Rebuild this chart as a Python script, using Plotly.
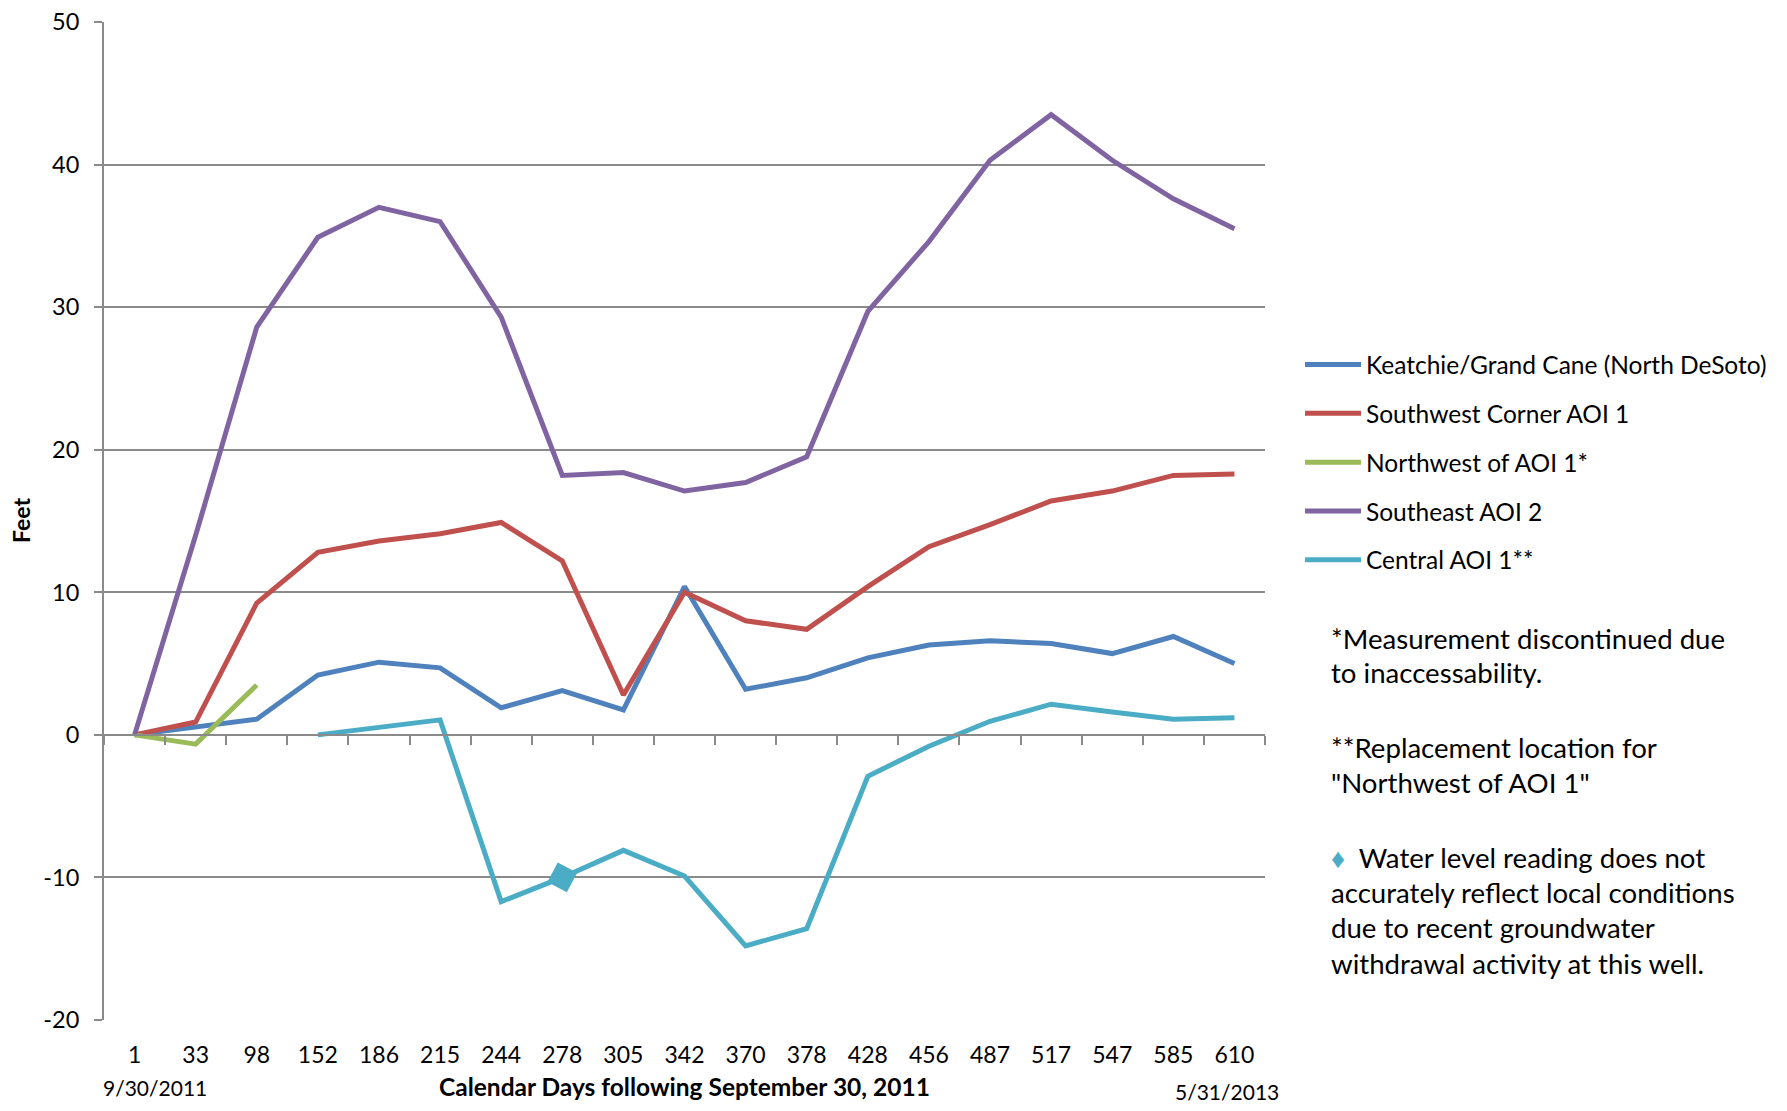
import plotly.graph_objects as go

categories = ["1", "33", "98", "152", "186", "215", "244", "278", "305", "342",
              "370", "378", "428", "456", "487", "517", "547", "585", "610"]

keatchie = [0, 0.55, 1.1, 4.2, 5.1, 4.7, 1.9, 3.1, 1.75, 10.4,
            3.2, 4.0, 5.4, 6.3, 6.6, 6.4, 5.7, 6.9, 5.0]
southwest = [0, 0.9, 9.25, 12.8, 13.6, 14.1, 14.9, 12.2, 2.8, 10.0,
             8.0, 7.4, 10.4, 13.2, 14.75, 16.4, 17.1, 18.2, 18.3]
northwest = [0, -0.65, 3.5, None, None, None, None, None, None, None,
             None, None, None, None, None, None, None, None, None]
southeast = [0, 14.0, 28.6, 34.9, 37.0, 36.0, 29.3, 18.2, 18.4, 17.1,
             17.7, 19.5, 29.7, 34.6, 40.3, 43.5, 40.3, 37.6, 35.5]
central = [None, None, None, 0, 0.55, 1.05, -11.7, -10.0, -8.1, -9.9,
           -14.8, -13.6, -2.9, -0.8, 0.95, 2.15, 1.6, 1.1, 1.2]
flagged_index = 7  # day 278, Central AOI 1 reading flagged with diamond

series_names = ["Keatchie/Grand Cane (North DeSoto)", "Southwest Corner AOI 1",
                "Northwest of AOI 1*", "Southeast AOI 2", "Central AOI 1**"]
series_values = [keatchie, southwest, northwest, southeast, central]
series_colors = ["#4F81BD", "#C0504D", "#9BBB59", "#8064A2", "#4BACC6"]

y_ticks = [-20, -10, 0, 10, 20, 30, 40, 50]
y_ticktext = ["-20", "-10", "0", "10", "20", "30", "40", "50"]

FONT = "Lato, 'Open Sans', sans-serif"
GRID = "#8a8a8a"

# page body has an 8px margin; size the figure so the page fits the window
OFF = 8
W, H = 1787 - 2 * OFF, 1111 - 2 * OFF
L, R, T, B = 96, 514, 14, 83
PW = W - L - R
PH = H - T - B


def px2paper_x(sx):
    return (sx - OFF - L) / PW


def px2paper_y(sy):
    return (H - B - (sy - OFF)) / PH


x_idx = list(range(len(categories)))
n = len(categories)

fig = go.Figure()
for name, vals, col in zip(series_names, series_values, series_colors):
    fig.add_trace(go.Scatter(
        x=x_idx, y=vals, mode="lines", name=name, legendgroup=name,
        line=dict(color=col, width=5), connectgaps=False,
    ))

fig.add_trace(go.Scatter(
    x=[x_idx[flagged_index]], y=[central[flagged_index]], mode="markers",
    marker=dict(symbol="diamond", size=24, color=series_colors[4], angle=-17),
    showlegend=False,
))

# helper trace for the zero-line axis
fig.add_trace(go.Scatter(x=[-0.5, n - 0.5], y=[0, 0], xaxis="x2",
                         mode="lines", line=dict(width=0), showlegend=False,
                         hoverinfo="skip"))

fig.update_layout(
    width=W, height=H,
    margin=dict(l=L, r=R, t=T, b=B, autoexpand=False),
    paper_bgcolor="white", plot_bgcolor="white",
    font=dict(family=FONT, size=22, color="black"),
    xaxis=dict(
        range=[-0.5, n - 0.5], tickmode="array", tickvals=x_idx, ticktext=categories,
        showgrid=False, zeroline=False, showline=False, automargin=False,
        ticks="outside", ticklen=14, tickcolor="rgba(0,0,0,0)",
        tickfont=dict(size=23, family=FONT),
    ),
    xaxis2=dict(
        overlaying="x", anchor="free", position=20 / 70, automargin=False,
        range=[-0.5, n - 0.5], tickmode="array",
        tickvals=[i - 0.5 for i in range(n + 1)],
        showticklabels=False, showgrid=False, zeroline=False,
        showline=True, linecolor=GRID, linewidth=2,
        ticks="outside", ticklen=9, tickwidth=2, tickcolor=GRID,
    ),
    yaxis=dict(
        range=[-20, 50], tickmode="array", tickvals=y_ticks, ticktext=y_ticktext,
        showgrid=True, gridcolor=GRID, gridwidth=2, zeroline=False,
        showline=True, linecolor=GRID, linewidth=2, automargin=False,
        ticks="outside", ticklen=8, tickwidth=2, tickcolor=GRID,
        ticklabelstandoff=10, ticklabeloverflow="allow",
        tickfont=dict(size=23.5, family=FONT),
    ),
    legend=dict(
        x=px2paper_x(1300), y=px2paper_y(342), xanchor="left", yanchor="top",
        font=dict(size=24.5, family=FONT), tracegroupgap=14,
        bgcolor="rgba(0,0,0,0)", itemwidth=56,
    ),
    showlegend=True,
)

annotations = [
    dict(text="<b>Feet</b>", x=px2paper_x(21), y=px2paper_y(521), textangle=-90,
         font=dict(size=23), xanchor="center", yanchor="middle"),
    dict(text="<b>Calendar Days following September 30, 2011</b>",
         x=px2paper_x(684), y=px2paper_y(1086), font=dict(size=24.5),
         xanchor="center", yanchor="middle"),
    dict(text="9/30/2011", x=px2paper_x(155), y=px2paper_y(1087), font=dict(size=21),
         xanchor="center", yanchor="middle"),
    dict(text="5/31/2013", x=px2paper_x(1227), y=px2paper_y(1091), font=dict(size=21),
         xanchor="center", yanchor="middle"),
]

note_lines = [
    ("*Measurement discontinued due", 638),
    ("to inaccessability.", 673),
    ("**Replacement location for", 747),
    ("\"Northwest of AOI 1\"", 782),
    ("<span style='color:#4BACC6'>\u2666</span>  Water level reading does not", 857),
    ("accurately reflect local conditions", 892),
    ("due to recent groundwater", 927),
    ("withdrawal activity at this well.", 963),
]
for txt, py in note_lines:
    annotations.append(dict(text=txt, x=px2paper_x(1329), y=px2paper_y(py),
                            xanchor="left", yanchor="middle", font=dict(size=27.6),
                            align="left"))

for a in annotations:
    a.update(xref="paper", yref="paper", showarrow=False)
fig.update_layout(annotations=annotations)

fig.write_html("out.html")
